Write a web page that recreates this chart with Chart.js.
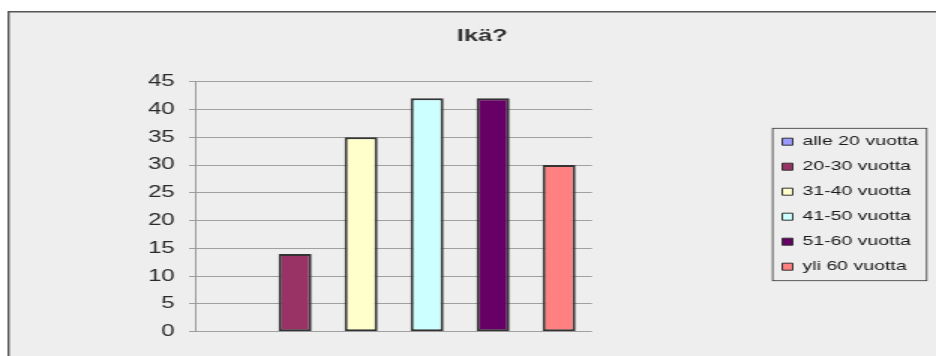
<!DOCTYPE html>
<html>
<head>
<meta charset="utf-8">
<script src="https://cdn.jsdelivr.net/npm/chart.js@4/dist/chart.umd.min.js"></script>
<style>
  html, body { margin: 0; padding: 0; background: #ffffff; overflow: hidden; }
  #wrap { width: 624px; height: 356px; transform: scaleX(1.5); transform-origin: 0 0; }
  canvas { display: block; }
</style>
</head>
<body>
<div id="wrap"><canvas id="c" width="624" height="356" style="width:624px;height:356px"></canvas></div>
<script>
// ---- data ----
const chartTitle = 'Ikä?';
const categories = [''];
const seriesNames = ['alle 20 vuotta', '20-30 vuotta', '31-40 vuotta', '41-50 vuotta', '51-60 vuotta', 'yli 60 vuotta'];
const seriesValues = [0, 14, 35, 42, 42, 30];
const seriesColors = ['#9999FF', '#993366', '#FFFFCC', '#CCFFFF', '#660066', '#FF8080'];
const yMin = 0, yMax = 45, yStep = 5;

const FONT = "'Liberation Sans', Arial, sans-serif";

const datasets = seriesNames.map((name, i) => ({
  label: name,
  data: [seriesValues[i]],
  backgroundColor: seriesColors[i],
  borderColor: '#333333',
  borderWidth: 2,
  borderSkipped: false,
  categoryPercentage: 1.0,
  barPercentage: 0.5
}));

const framePlugin = {
  id: 'frame',
  afterLayout(chart) {
    const t = chart.titleBlock;
    if (t) { t.left = 19; t.right = chart.width; t.width = t.right - t.left; }
    const lg = chart.legend;
    if (lg) {
      lg.left = 509.5; lg.top = 123.2;
      lg.width = chart.width - lg.left; lg.height = 166;
      lg.right = lg.left + lg.width; lg.bottom = lg.top + lg.height;
    }
  },
  beforeDraw(chart) {
    const ctx = chart.ctx;
    ctx.save();
    ctx.fillStyle = '#eeeeee';
    ctx.fillRect(5, 11, chart.width, chart.height);
    ctx.strokeStyle = '#555555';
    ctx.lineWidth = 1.4;
    ctx.beginPath();
    ctx.moveTo(5.7, chart.height + 2);
    ctx.lineTo(5.7, 11.7);
    ctx.lineTo(chart.width + 2, 11.7);
    ctx.stroke();
    ctx.restore();
  },
  afterDraw(chart) {
    const lg = chart.legend;
    if (!lg) return;
    const ctx = chart.ctx;
    ctx.save();
    ctx.strokeStyle = '#333333';
    ctx.lineWidth = 0.8;
    ctx.strokeRect(lg.left + 5.6, lg.top + 5.1, 102.7, 152.4);
    ctx.restore();
  }
};

new Chart(document.getElementById('c'), {
  type: 'bar',
  data: { labels: categories, datasets: datasets },
  plugins: [framePlugin],
  options: {
    responsive: false,
    devicePixelRatio: 1,
    animation: false,
    layout: { padding: { left: 0, right: 229.3, top: 0, bottom: 24.3 } },
    plugins: {
      tooltip: { enabled: false },
      title: {
        display: true,
        text: chartTitle,
        color: '#333333',
        font: { family: FONT, size: 17, weight: 'bold' },
        padding: { top: 26.1, bottom: 35.2 }
      },
      legend: {
        position: 'chartArea',
        align: 'start',
        labels: {
          boxWidth: 7,
          boxHeight: 7,
          padding: 12,
          color: '#1a1a1a',
          font: { family: FONT, size: 13 },
          generateLabels(chart) {
            return Chart.defaults.plugins.legend.labels.generateLabels(chart).map(it => Object.assign(it, { lineWidth: 1 }));
          }
        }
      }
    },
    scales: {
      x: { display: false },
      y: {
        min: yMin,
        max: yMax,
        afterFit(scale) { scale.width = 130.7; },
        ticks: {
          stepSize: yStep,
          padding: 9.5,
          color: '#2a2a2a',
          font: { family: FONT, size: 16 }
        },
        grid: { color: '#a0a0a0', lineWidth: 1, tickLength: 4.7, drawTicks: true, tickColor: '#a0a0a0' },
        border: { display: true, color: '#999999', width: 1 }
      }
    }
  }
});
</script>
</body>
</html>
